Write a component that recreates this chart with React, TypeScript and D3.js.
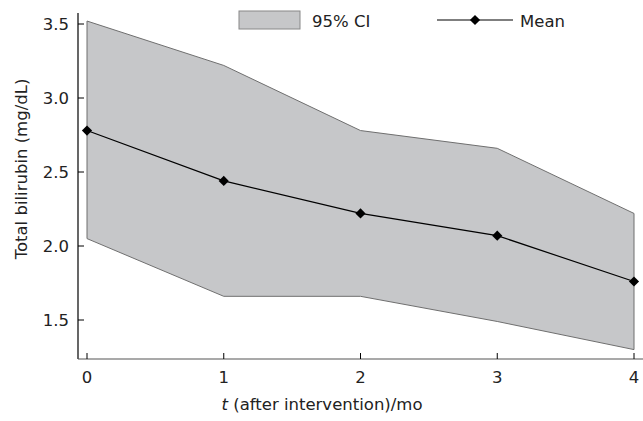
import React, { useEffect, useRef } from 'react';
import * as d3 from 'd3';

const months = [0, 1, 2, 3, 4];
const meanValues = [2.78, 2.44, 2.22, 2.07, 1.76];
const upperValues = [3.52, 3.22, 2.78, 2.66, 2.22];
const lowerValues = [2.05, 1.66, 1.66, 1.49, 1.3];
const yTicks = [1.5, 2.0, 2.5, 3.0, 3.5];

const App = () => {
  const ref = useRef<SVGSVGElement | null>(null);

  useEffect(() => {
    if (!ref.current) return;
    const svg = d3.select(ref.current);
    svg.selectAll('*').remove();
    const font = 'Verdana, "DejaVu Sans", sans-serif';
    const fs = 16.5;

    const x = d3.scaleLinear().domain([0, 4]).range([87, 634]);
    const y = d3.scaleLinear().domain([1.5, 3.5]).range([320, 24]);
    const axisLeftX = 78;
    const axisBottomY = 359;

    const rows = months.map((m, i) => ({ m, mean: meanValues[i], lo: lowerValues[i], hi: upperValues[i] }));

    const area = d3.area<any>()
      .x(d => x(d.m))
      .y0(d => y(d.lo))
      .y1(d => y(d.hi));

    svg.append('path')
      .datum(rows)
      .attr('d', area)
      .attr('fill', '#c6c7c9')
      .attr('stroke', '#6f6f6f')
      .attr('stroke-width', 1);

    const line = d3.line<any>().x(d => x(d.m)).y(d => y(d.mean));
    svg.append('path')
      .datum(rows)
      .attr('d', line)
      .attr('fill', 'none')
      .attr('stroke', '#000')
      .attr('stroke-width', 1.2);

    const diamond = d3.symbol().type(d3.symbolSquare).size(52);
    svg.selectAll('.pt')
      .data(rows)
      .enter().append('path')
      .attr('class', 'pt')
      .attr('d', diamond)
      .attr('transform', d => `translate(${x(d.m)},${y(d.mean)}) rotate(45)`)
      .attr('fill', '#000');

    // y axis
    const gy = svg.append('g').attr('transform', `translate(${axisLeftX},0)`);
    gy.append('line').attr('x1', 0).attr('x2', 0).attr('y1', 13).attr('y2', axisBottomY)
      .attr('stroke', '#000').attr('stroke-width', 1.2);
    gy.selectAll('.yt').data(yTicks).enter().append('line')
      .attr('x1', 0).attr('x2', 6).attr('y1', d => y(d)).attr('y2', d => y(d))
      .attr('stroke', '#000');
    gy.selectAll('.yl').data(yTicks).enter().append('text')
      .attr('x', -9).attr('y', d => y(d)).attr('dy', '0.38em')
      .attr('text-anchor', 'end')
      .attr('font-family', font).attr('font-size', fs).attr('fill', '#222')
      .text(d => d3.format('.1f')(d));

    // x axis
    const gx = svg.append('g').attr('transform', `translate(0,${axisBottomY})`);
    gx.append('line').attr('x1', axisLeftX).attr('x2', 643).attr('y1', 0).attr('y2', 0)
      .attr('stroke', '#555').attr('stroke-width', 1.2);
    gx.selectAll('.xt').data(months).enter().append('line')
      .attr('x1', d => x(d)).attr('x2', d => x(d)).attr('y1', 0).attr('y2', -6)
      .attr('stroke', '#000');
    gx.selectAll('.xl').data(months).enter().append('text')
      .attr('x', d => x(d)).attr('y', 24)
      .attr('text-anchor', 'middle')
      .attr('font-family', font).attr('font-size', fs).attr('fill', '#222')
      .text(d => String(d));

    // axis titles
    const xt = svg.append('text')
      .attr('x', 322).attr('y', 410)
      .attr('text-anchor', 'middle')
      .attr('font-family', font).attr('font-size', fs).attr('fill', '#222');
    xt.append('tspan').attr('font-style', 'italic').text('t');
    xt.append('tspan').text(' (after intervention)/mo');

    svg.append('text')
      .attr('transform', 'translate(27,169) rotate(-90)')
      .attr('text-anchor', 'middle')
      .attr('font-family', font).attr('font-size', fs).attr('fill', '#222')
      .text('Total bilirubin (mg/dL)');

    // legend
    const lg = svg.append('g');
    lg.append('rect').attr('x', 239).attr('y', 11).attr('width', 61).attr('height', 18)
      .attr('fill', '#c6c7c9').attr('stroke', '#888');
    lg.append('text').attr('x', 312).attr('y', 27)
      .attr('font-family', font).attr('font-size', fs).attr('fill', '#222')
      .text('95% CI');
    lg.append('line').attr('x1', 437).attr('x2', 513).attr('y1', 20).attr('y2', 20)
      .attr('stroke', '#000').attr('stroke-width', 1.2);
    lg.append('path').attr('d', diamond).attr('transform', 'translate(475,20) rotate(45)')
      .attr('fill', '#000');
    lg.append('text').attr('x', 520).attr('y', 27)
      .attr('font-family', font).attr('font-size', fs).attr('fill', '#222')
      .text('Mean');
  }, []);

  return <svg ref={ref} width={643} height={421} style={{ position: 'absolute', left: 0, top: 0 }} />;
};

export default App;
